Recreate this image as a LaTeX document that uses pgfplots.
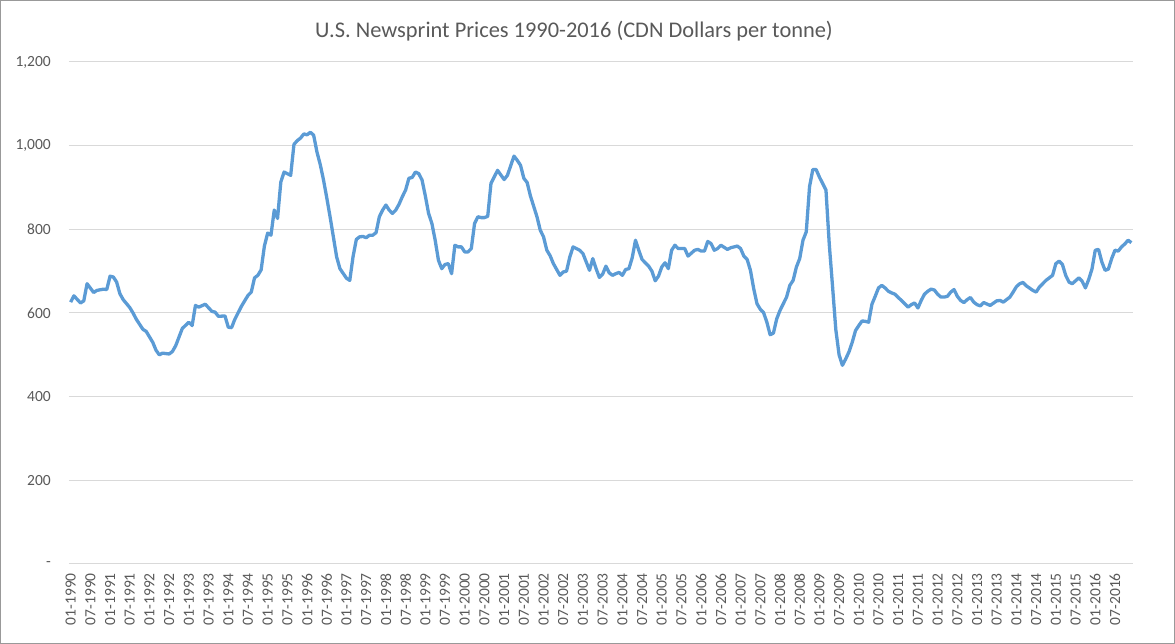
\documentclass[border=0pt]{standalone}
\usepackage{pgfplots}
\pgfplotsset{compat=1.18}
\usepackage{fontspec}
\setmainfont{Carlito}
\definecolor{lineblue}{HTML}{5B9BD5}
\definecolor{txtgray}{HTML}{595959}
\definecolor{gridgray}{HTML}{D9D9D9}

% month index (0 = 01-1990), price in CDN dollars per tonne
\pgfplotstableread{
m p
0 626
1 641
3 624
4 629
5 670
7 649
8 654
10 657
11 656
12 688
13 686
14 674
15 646
16 632
18 613
19 600
20 585
22 561
23 556
25 530
26 511
27 500
28 504
29 503
30 502
31 508
32 522
34 563
36 578
37 570
38 618
39 614
41 621
43 604
44 602
45 592
47 593
48 566
49 565
50 585
52 616
54 642
55 650
56 684
57 690
58 703
59 760
60 791
61 786
62 846
63 826
64 913
65 937
67 929
68 1003
69 1012
70 1018
71 1028
72 1026
73 1032
74 1025
75 985
76 955
77 918
78 875
79 830
80 782
81 734
82 706
84 683
85 678
86 735
87 776
88 782
89 783
90 780
91 786
92 786
93 792
94 830
95 846
96 858
97 846
98 838
99 846
100 860
101 878
102 894
103 922
104 924
105 937
106 933
107 918
108 880
109 838
110 814
111 774
112 726
113 706
114 716
115 718
116 694
117 762
118 758
119 758
120 746
121 746
122 754
123 814
124 830
125 828
126 828
127 831
128 910
130 941
132 919
133 929
135 975
136 965
137 953
138 922
139 912
140 880
142 830
143 798
144 782
145 750
146 737
147 718
149 690
150 698
151 700
152 734
153 758
155 750
156 742
157 722
158 702
159 730
160 706
161 685
162 693
163 712
164 696
165 690
166 694
167 697
168 690
169 704
170 706
171 732
172 774
173 750
174 728
176 712
177 700
178 677
179 688
180 710
181 720
182 706
183 750
184 762
185 754
187 754
188 736
190 750
191 752
192 748
193 748
194 771
195 766
196 750
197 754
198 762
200 752
201 756
203 760
204 754
205 736
206 728
207 702
208 658
209 622
210 609
211 601
212 578
213 548
214 552
215 586
216 606
217 622
218 638
219 666
220 678
221 710
222 730
223 774
224 794
225 902
226 943
227 943
228 925
230 894
231 765
232 664
233 560
234 500
235 475
236 490
237 507
238 530
239 558
240 570
241 581
242 580
243 578
244 621
245 640
246 660
247 666
248 660
249 652
250 648
251 645
252 637
253 630
254 622
255 614
256 620
257 624
258 612
259 630
260 645
261 652
262 657
263 655
264 645
265 638
266 638
267 640
268 650
269 656
270 640
271 630
272 625
273 632
274 637
275 626
276 620
277 617
278 625
280 618
282 629
283 630
284 626
286 638
287 650
288 663
289 670
290 673
291 665
293 654
294 650
295 662
296 670
297 678
298 684
299 690
300 718
301 724
302 716
303 690
304 674
305 670
307 684
308 676
309 660
310 680
311 705
312 750
313 752
314 722
315 702
316 705
317 730
318 750
319 748
320 758
321 765
322 774
323 768
}\prices

\begin{document}
\begin{tikzpicture}[x=1pt,y=1pt]
\useasboundingbox (0,0) rectangle (1175,644);
\draw[gray!80, line width=1.2pt] (0.6,0.6) rectangle (1174.4,643.4);
\node[font=\fontsize{22.4}{26}\selectfont, text=txtgray] at (574,613)
  {U.S. Newsprint Prices 1990-2016 (CDN Dollars per tonne)};
\begin{axis}[
  at={(69pt,80pt)}, anchor=south west,
  scale only axis, width=1064pt, height=502pt,
  xmin=-0.5, xmax=323.5, ymin=0, ymax=1200,
  axis line style={draw=none},
  major tick length=0pt,
  ymajorgrids, grid style={gridgray, line width=1pt},
  ytick={0,200,...,1200},
  yticklabels={{-},{200},{400},{600},{800},{1,000},{1,200}},
  xtick={0,6,...,318},
  xticklabels={01-1990,07-1990,01-1991,07-1991,01-1992,07-1992,01-1993,07-1993,
    01-1994,07-1994,01-1995,07-1995,01-1996,07-1996,01-1997,07-1997,
    01-1998,07-1998,01-1999,07-1999,01-2000,07-2000,01-2001,07-2001,
    01-2002,07-2002,01-2003,07-2003,01-2004,07-2004,01-2005,07-2005,
    01-2006,07-2006,01-2007,07-2007,01-2008,07-2008,01-2009,07-2009,
    01-2010,07-2010,01-2011,07-2011,01-2012,07-2012,01-2013,07-2013,
    01-2014,07-2014,01-2015,07-2015,01-2016,07-2016},
  tick label style={font=\fontsize{15.5}{18}\selectfont, text=txtgray, inner sep=0pt},
  xticklabel style={rotate=90, anchor=east},
  xticklabel shift=9pt,
  yticklabel style={anchor=east},
  yticklabel shift=18pt,
  clip=false,
]
\addplot[lineblue, line width=3.3pt, line join=round] table[x=m, y=p] {\prices};
\end{axis}
\end{tikzpicture}
\end{document}
